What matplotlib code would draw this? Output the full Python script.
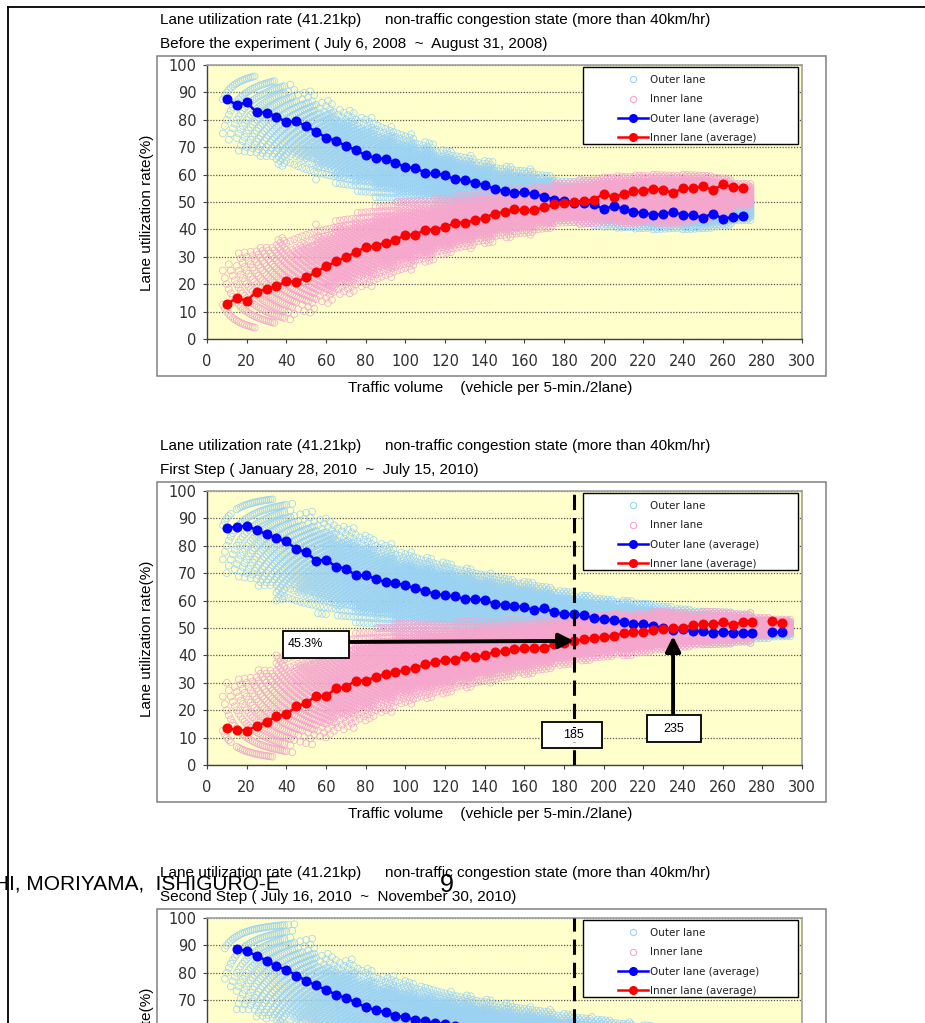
import numpy as np
import matplotlib
matplotlib.use("Agg")
import matplotlib.pyplot as plt
from matplotlib.patches import Rectangle
from matplotlib.lines import Line2D

# ---------------------------------------------------------------- data
# Panel 1: before the experiment (July 6 - August 31, 2008)
p1_avg_x = list(range(10, 275, 5))
p1_outer_avg = [87.5, 85.4, 86.4, 82.7, 82.6, 81.2, 79.1, 79.6, 77.6, 75.7,
                73.5, 72.3, 70.5, 69.0, 67.0, 66.2, 65.6, 64.4, 62.6, 62.5,
                60.6, 60.5, 59.7, 58.3, 58.0, 57.1, 56.1, 54.8, 54.0, 53.2,
                53.7, 52.8, 52.0, 50.9, 50.4, 49.8, 49.5, 49.1, 47.4, 48.6,
                47.5, 46.3, 46.1, 45.3, 45.6, 46.4, 45.3, 45.3, 44.2, 45.8,
                43.9, 44.5, 44.8]
p1_inner_avg = [12.8, 14.9, 14.0, 17.3, 18.2, 19.3, 21.1, 20.8, 22.5, 24.4,
                26.5, 28.3, 29.8, 31.7, 33.5, 34.0, 35.2, 36.1, 38.0, 38.0,
                39.9, 39.9, 40.8, 42.3, 42.5, 43.4, 44.2, 45.8, 46.3, 47.4,
                46.9, 47.2, 48.0, 49.1, 49.5, 50.1, 50.4, 50.9, 52.9, 51.8,
                52.9, 53.9, 54.1, 54.9, 54.4, 53.3, 55.0, 55.0, 55.8, 54.3,
                56.4, 55.5, 55.2]
# extent of the 5-minute samples, per 10-vehicle bin
p1_bins = list(range(10, 280, 10))
p1_outer_lo = [72, 68, 66, 63, 61, 58, 55, 53, 51, 50, 49, 48, 47, 46, 45,
               44.5, 44, 43, 42, 41, 40.5, 40, 40, 40, 40, 41, 43]
p1_outer_hi = [94, 96, 95, 93, 91, 87, 84, 81, 78, 75, 72, 69, 67, 65, 63,
               62, 60, 58, 58, 58, 58, 58, 58, 58, 57, 55, 52]
p1_inner_lo = [6, 4, 5, 7, 9, 13, 16, 19, 22, 25, 28, 31, 33, 35, 37,
               38, 40, 42, 42, 42, 42, 42, 42, 42, 43, 45, 48]
p1_inner_hi = [28, 32, 34, 37, 39, 42, 45, 47, 49, 50, 51, 52, 53, 54, 55,
               55.5, 56, 57, 58, 59, 59.5, 60, 60, 60, 60, 59, 57]

# Panel 2: first step (January 28 - July 15, 2010); no samples at 280
p2_avg_x = list(range(10, 295, 5))
p2_outer_avg = [86.6, 86.9, 87.3, 85.8, 84.2, 82.7, 81.6, 78.8, 77.7, 74.6,
                74.9, 72.4, 71.7, 69.2, 69.2, 68.0, 66.7, 66.3, 65.6, 64.6,
                63.4, 62.5, 61.9, 61.6, 60.5, 60.5, 60.2, 58.8, 58.5, 58.2,
                57.5, 56.6, 57.2, 55.7, 55.1, 55.0, 54.7, 53.5, 53.2, 52.9,
                52.1, 51.5, 51.3, 50.7, 50.1, 49.3, 49.5, 48.9, 48.9, 48.1,
                48.7, 48.3, 48.3, 48.1, None, 48.4, 48.4]
p2_inner_avg = [13.4, 12.9, 12.5, 14.2, 15.7, 17.8, 18.5, 21.4, 22.5, 25.3,
                25.1, 28.0, 28.5, 30.8, 30.8, 32.1, 33.3, 33.8, 34.7, 35.4,
                36.7, 37.6, 38.2, 38.4, 39.7, 39.3, 40.1, 41.2, 41.7, 42.2,
                42.7, 42.6, 42.8, 44.0, 44.6, 45.3, 45.9, 46.4, 46.6, 47.2,
                48.1, 48.5, 48.5, 49.3, 49.5, 50.1, 50.0, 51.1, 51.3, 51.3,
                52.1, 51.1, 52.1, 52.2, None, 52.4, 51.8]
p2_bins = list(range(10, 300, 10))
p2_outer_lo = [70, 67, 65, 60, 57, 55, 53, 51, 50, 48, 48, 48, 47.5, 47, 47,
               46.5, 46, 45.5, 45, 45, 44.5, 44, 44, 44, 44, 44, 44.5, 46, 46.5]
p2_outer_hi = [92, 97, 97, 96, 93, 90, 87, 84, 81, 78, 76, 74, 72, 70, 68.5,
               67, 65.5, 63.5, 62, 61, 60, 59, 58, 57, 56.5, 56, 55.5, 53, 52.5]
p2_inner_lo = [8, 3, 3, 4, 7, 10, 13, 16, 19, 22, 24, 26, 28, 30, 31.5,
               33, 34.5, 36.5, 38, 39, 40, 41, 42, 43, 43.5, 44, 44.5, 47, 47.5]
p2_inner_hi = [30, 33, 35, 40, 43, 45, 47, 49, 50, 52, 52, 52, 52.5, 53, 53,
               53.5, 54, 54.5, 55, 55, 55.5, 56, 56, 56, 56, 56, 55.5, 54, 53.5]

# Panel 3: second step (July 16 - November 30, 2010)
p3_avg_x = list(range(15, 130, 5))
p3_outer_avg = [88.8, 87.8, 86.3, 84.4, 82.4, 81.1, 79.0, 77.1, 75.4, 73.8,
                72.0, 70.8, 69.2, 67.4, 66.5, 65.6, 64.4, 63.7, 62.9, 62.3,
                61.8, 61.2, 60.5]
p3_inner_avg = [11.2, 12.2, 13.7, 15.6, 17.6, 18.9, 21.0, 22.9, 24.6, 26.2,
                28.0, 29.2, 30.8, 32.6, 33.5, 34.4, 35.6, 36.3, 37.1, 37.7,
                38.2, 38.8, 39.5]
p3_bins = list(range(10, 280, 10))
p3_outer_lo = [73, 66, 63, 59, 56, 54, 52, 50, 49, 48, 48, 47.5, 47, 46.5, 46,
               45.5, 45, 45, 44.5, 44.5, 44, 44, 44, 44, 44, 44.5, 45]
p3_outer_hi = [93, 96, 97.5, 98, 93, 87, 85, 82, 79, 77, 75, 73.5, 72, 70.5, 69,
               67.5, 66.5, 65, 64, 63, 62, 61, 60, 59, 58, 57, 56]
p3_inner_lo = [7, 4, 2.5, 2, 7, 13, 15, 18, 21, 23, 25, 26.5, 28, 29.5, 31,
               32.5, 33.5, 35, 36, 37, 38, 39, 40, 41, 42, 43, 44]
p3_inner_hi = [27, 34, 37, 41, 44, 46, 48, 50, 51, 52, 52, 52.5, 53, 53.5, 54,
               54.5, 55, 55, 55.5, 55.5, 56, 56, 56, 56, 56, 55.5, 55]

# annotated values in the first-step panel
split_volume = 185
inner_share_at_split = 45.3
crossing_volume = 235

x_ticks = list(range(0, 320, 20))
y_ticks = list(range(0, 110, 10))

title_line = ("Lane utilization rate (41.21kp)",
              "non-traffic congestion state (more than 40km/hr)")
period_titles = [
    "Before the experiment ( July 6, 2008  ~  August 31, 2008)",
    "First Step ( January 28, 2010  ~  July 15, 2010)",
    "Second Step ( July 16, 2010  ~  November 30, 2010)",
]
legend_labels = ["Outer lane", "Inner lane", "Outer lane (average)",
                 "Inner lane (average)"]
y_label = "Lane utilization rate(%)"
x_label = "Traffic volume    (vehicle per 5-min./2lane)"

# ---------------------------------------------------------------- style
W, H = 925, 1023
OUTER_PT = "#9BD2F3"
INNER_PT = "#F5A6CD"
OUTER_AVG = "#0000FF"
INNER_AVG = "#FF0000"
PLOT_BG = "#FFFFCC"
SANS = ["Liberation Sans", "DejaVu Sans"]
TICKF = ["DejaVu Sans"]

fig = plt.figure(figsize=(W / 100, H / 100), dpi=100)
fig.patch.set_facecolor("white")


def fx(px):
    return px / W


def fy(py):
    return 1 - py / H


def sample_cloud(bins, lo, hi, n_first):
    """Possible lane shares 100*k/n inside each bin's extent; the outer
    fringe of the extent is drawn thinner than its core."""
    xs, ys = [], []
    for c, a, b in zip(bins, lo, hi):
        half = 0.5 * (b - a)
        for n in range(max(c - 5, n_first), c + 5):
            k = np.arange(n + 1)
            r = 100.0 * k / n
            inside = (r >= a) & (r <= b)
            depth = np.minimum(r - a, b - r) / half
            keep = inside & ((depth >= 0.3) | (n < 40) | ((n + k) % 3 == 0))
            xs.extend([n] * int(keep.sum()))
            ys.extend(r[keep])
    return np.array(xs), np.array(ys)


def as_float(vals):
    return np.array([np.nan if v is None else v for v in vals], dtype=float)


def draw_panel(top, period, avg_x, outer_avg, inner_avg, bins, o_lo, o_hi,
               i_lo, i_hi, n_first, split_line=False):
    left, right, ph = 207, 802, 274
    ax = fig.add_axes([fx(left), fy(top + ph), (right - left) / W, ph / H])
    ax.set_facecolor(PLOT_BG)

    # outer frame of the chart object
    fig.add_artist(Rectangle((fx(157), fy(top + ph + 37)), (826 - 157) / W,
                             (ph + 46) / H, transform=fig.transFigure,
                             fill=False, ec="#808080", lw=1.1, zorder=0))

    ox, oy = sample_cloud(bins, o_lo, o_hi, n_first)
    ix, iy = sample_cloud(bins, i_lo, i_hi, n_first)
    ax.scatter(ox, oy, s=24, facecolors="none", edgecolors=OUTER_PT,
               linewidths=0.5, zorder=2)
    ax.scatter(ix, iy, s=24, facecolors="none", edgecolors=INNER_PT,
               linewidths=0.5, zorder=2.1)
    ax.plot(avg_x, as_float(outer_avg), color=OUTER_AVG, lw=1.8, marker="o",
            ms=6.2, zorder=3)
    ax.plot(avg_x, as_float(inner_avg), color=INNER_AVG, lw=1.8, marker="o",
            ms=6.2, zorder=3.1)

    if split_line:
        ax.axvline(split_volume, color="black", lw=2.2, ls=(0, (5, 2.6)),
                   zorder=5)

    ax.set_xlim(0, 300)
    ax.set_ylim(0, 100)
    ax.set_xticks(x_ticks)
    ax.set_yticks(y_ticks)
    ax.tick_params(axis="both", direction="out", length=3, width=0.8,
                   color="#404040", labelcolor="#303030", labelsize=10.5)
    ax.tick_params(axis="x", pad=8)
    ax.tick_params(axis="y", pad=4.5)
    for lab in ax.get_xticklabels() + ax.get_yticklabels():
        lab.set_family(TICKF)
    on_page = top + ph + 60 < H
    if not on_page:
        # labels that fall below the page edge are not drawn
        for lab, v in zip(ax.get_yticklabels(), y_ticks):
            lab.set_visible(top + ph - v * ph / 100 < H)
        ax.tick_params(axis="x", labelbottom=False)
    ax.yaxis.grid(True, ls=(0, (1, 1.3)), color="#555555", lw=0.9, zorder=1)
    ax.set_axisbelow(True)
    for s in ("top", "right"):
        ax.spines[s].set_color("#A0A0A0")
        ax.spines[s].set_linewidth(1.2)
    for s in ("left", "bottom"):
        ax.spines[s].set_color("#404040")
        ax.spines[s].set_linewidth(1.0)

    # legend: frame box plus entries
    ax.add_patch(Rectangle((fx(583), fy(top + 79)), (798 - 583) / W, 77 / H,
                           transform=fig.transFigure, fc="white", ec="black",
                           lw=1.0, zorder=6, clip_on=False))
    handles = [
        Line2D([], [], ls="none", marker="o", mfc="none", mec=OUTER_PT,
               ms=4.5, mew=0.8),
        Line2D([], [], ls="none", marker="o", mfc="none", mec=INNER_PT,
               ms=4.5, mew=0.8),
        Line2D([], [], color=OUTER_AVG, lw=1.8, marker="o", ms=5.5),
        Line2D([], [], color=INNER_AVG, lw=1.8, marker="o", ms=5.5),
    ]
    leg = ax.legend(handles, legend_labels, loc="upper left",
                    bbox_to_anchor=(fx(618), fy(top + 10)),
                    bbox_transform=fig.transFigure, frameon=False,
                    borderpad=0, borderaxespad=0, handlelength=2.9,
                    handletextpad=0.15, labelspacing=0.9, numpoints=1,
                    prop={"family": TICKF, "size": 7.5})
    leg.set_zorder(7)
    for t in leg.get_texts():
        t.set_color("#202020")

    # titles and axis labels
    fig.text(fx(160), fy(top - 45), title_line[0], family=SANS, fontsize=11,
             va="center", ha="left")
    fig.text(fx(385), fy(top - 45), title_line[1], family=SANS, fontsize=11,
             va="center", ha="left")
    fig.text(fx(160), fy(top - 21), period, family=SANS, fontsize=11,
             va="center", ha="left")
    fig.text(fx(147), fy(top + ph / 2 + 11), y_label, family=SANS,
             fontsize=11, rotation=90, va="center", ha="center")
    if on_page:
        fig.text(fx(490), fy(top + ph + 49), x_label, family=SANS,
                 fontsize=11, va="center", ha="center")
    return ax


# page border
fig.add_artist(Line2D([fx(8), fx(8)], [fy(7), 0], color="black", lw=1.3))
fig.add_artist(Line2D([fx(8), 1], [fy(7), fy(7)], color="black", lw=1.3))

draw_panel(65, period_titles[0], p1_avg_x, p1_outer_avg, p1_inner_avg,
           p1_bins, p1_outer_lo, p1_outer_hi, p1_inner_lo, p1_inner_hi, 8)
ax2 = draw_panel(491, period_titles[1], p2_avg_x, p2_outer_avg, p2_inner_avg,
                 p2_bins, p2_outer_lo, p2_outer_hi, p2_inner_lo, p2_inner_hi,
                 8, split_line=True)
draw_panel(918, period_titles[2], p3_avg_x, p3_outer_avg, p3_inner_avg,
           p3_bins, p3_outer_lo, p3_outer_hi, p3_inner_lo, p3_inner_hi, 9,
           split_line=True)

# annotations of the first-step panel
arrow = dict(arrowstyle="-|>,head_length=0.6,head_width=0.3",
             mutation_scale=15, lw=2.8, color="black", shrinkA=0, shrinkB=0)
ax2.annotate("", xy=(split_volume, inner_share_at_split), xytext=(71.5, 44.9),
             arrowprops=arrow, zorder=8)
ax2.annotate("", xy=(crossing_volume, 47.0), xytext=(crossing_volume, 18.2),
             arrowprops=arrow, zorder=8)
ax2.add_patch(Rectangle((38.2, 39.1), 33.3, 9.8, fc="white", ec="black",
                        lw=1.3, zorder=9))
ax2.text(40.8, 44.0, f"{inner_share_at_split}%", family=SANS, fontsize=9,
         va="center", ha="left", zorder=10)
ax2.add_patch(Rectangle((169.1, 6.2), 30.2, 9.5, fc="white", ec="black",
                        lw=1.3, zorder=4.5))
ax2.text(split_volume, 10.9, f"{split_volume}", family=SANS, fontsize=9,
         va="center", ha="center", zorder=10,
         bbox=dict(fc="white", ec="none", pad=0.5))
ax2.add_patch(Rectangle((222.0, 8.4), 27.1, 9.8, fc="white", ec="black",
                        lw=1.3, zorder=9))
ax2.text(235.5, 13.3, f"{crossing_volume}", family=SANS, fontsize=9,
         va="center", ha="center", zorder=10)

# running page header of the document
fig.text(fx(-6), fy(884), "HI, MORIYAMA,  ISHIGURO-E", family=SANS,
         fontsize=15, va="center", ha="left", zorder=20)
fig.text(fx(447), fy(885), "9", family=SANS, fontsize=18, va="center",
         ha="center", zorder=20)

fig.savefig("out.png", dpi=100)
